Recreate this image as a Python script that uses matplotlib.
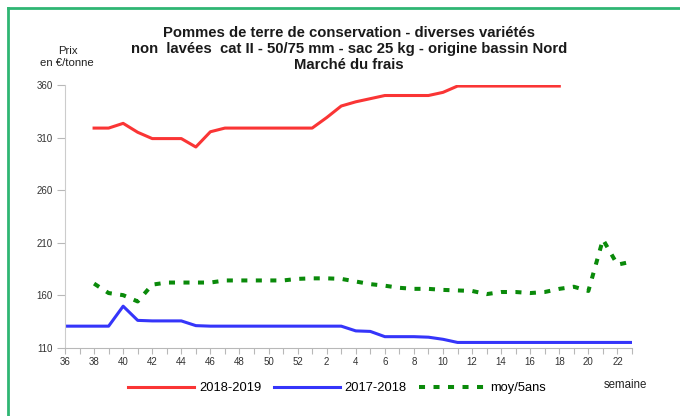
import numpy as np
import matplotlib
matplotlib.use("Agg")
import matplotlib.pyplot as plt
from matplotlib.lines import Line2D

plt.rcParams['font.family'] = ['Liberation Sans', 'DejaVu Sans']

# semaines de campagne : 36 -> 52 puis 1 -> 23
weeks = list(range(36, 53)) + list(range(1, 24))

nan = np.nan
prix_2018_2019 = [nan, nan,
                  319, 319, 323.5, 315, 309, 309, 309, 301, 315.5, 319, 319, 319, 319, 319, 319,
                  319, 329, 340, 344, 347, 350, 350, 350, 350, 353,
                  359, 359, 359, 359, 359, 359, 359, 359,
                  nan, nan, nan, nan, nan]
prix_2017_2018 = [130.5, 130.5, 130.5, 130.5, 149.5, 136, 135.5, 135.5, 135.5, 131,
                  130.5, 130.5, 130.5, 130.5, 130.5, 130.5, 130.5,
                  130.5, 130.5, 130.5, 126, 125.5, 120.5, 120.5, 120.5, 120, 118,
                  115, 115, 115, 115, 115, 115, 115, 115, 115, 115, 115, 115, 115]
moy_5ans = [nan, nan,
            171, 162, 160, 154, 170, 172, 172, 172, 172, 174, 174, 174, 174, 174, 175.5,
            176, 176, 175.5, 173, 170.5, 169, 167, 166, 166, 165, 164.5, 164,
            161, 163, 163, 162, 163, 166, 168, 164, 213, 189, 192]

y_ticks = [110, 160, 210, 260, 310, 360]

W, H = 680, 416
fig = plt.figure(figsize=(W / 100, H / 100), dpi=100)

# cadre vert (haut et gauche seulement visibles)
green_frame = '#2fb673'
fig.add_artist(Line2D([8 / W, 1], [1 - 8 / H, 1 - 8 / H], color=green_frame, lw=2, transform=fig.transFigure))
fig.add_artist(Line2D([8 / W, 8 / W], [0, 1 - 8 / H], color=green_frame, lw=2, transform=fig.transFigure))

left, right, top, bottom = 65, 632, 85, 347.7
ax = fig.add_axes([left / W, 1 - bottom / H, (right - left) / W, (bottom - top) / H])

x = np.arange(len(weeks))
ax.plot(x, prix_2018_2019, color='#fa3535', lw=2.2, label='2018-2019', solid_joinstyle='round')
ax.plot(x, prix_2017_2018, color='#3535fa', lw=2.2, label='2017-2018', solid_joinstyle='round')
ax.plot(x, moy_5ans, color='#0a8a0a', lw=2.9, linestyle=(0, (1.5, 2.1)), label='moy/5ans')

ax.set_xlim(0, len(weeks) - 1)
ax.set_ylim(110, 360)

ax.set_yticks(y_ticks)
ax.set_yticklabels([str(v) for v in y_ticks])
ax.set_xticks(x)
ax.set_xticklabels([str(w) if i % 2 == 0 else '' for i, w in enumerate(weeks)])

ax.tick_params(axis='y', length=6, width=0.8, color='#b8b8b8', pad=3, labelsize=7, labelcolor='#333333')
ax.tick_params(axis='x', length=4, width=0.8, color='#b8b8b8', pad=3, labelsize=7, labelcolor='#333333')

for s in ['top', 'right']:
    ax.spines[s].set_visible(False)
ax.spines['left'].set_color('#cccccc')
ax.spines['bottom'].set_color('#b8b8b8')
ax.spines['left'].set_linewidth(0.8)
ax.spines['bottom'].set_linewidth(0.8)

# titres
title_lines = ["Pommes de terre de conservation - diverses variétés",
               "non  lavées  cat II - 50/75 mm - sac 25 kg - origine bassin Nord",
               "Marché du frais"]
for i, t in enumerate(title_lines):
    fig.text(349 / W, 1 - (33 + 16 * i) / H, t, ha='center', va='center',
             fontsize=10.7, fontweight='bold', color='#1a1a1a')

fig.text(68 / W, 1 - 51 / H, "Prix", ha='center', va='center', fontsize=8.2, color='#222222')
fig.text(67 / W, 1 - 63 / H, "en €/tonne", ha='center', va='center', fontsize=8.2, color='#222222')

fig.legend(loc='center', bbox_to_anchor=(337 / W, 1 - 388 / H), ncol=3, frameon=False,
           fontsize=9.3, handlelength=5.1, handletextpad=0.35, columnspacing=1.0)

fig.text(625 / W, 1 - 385 / H, "semaine", ha='center', va='center', fontsize=8.3, color='#222222')

fig.savefig('out.png', dpi=100)
